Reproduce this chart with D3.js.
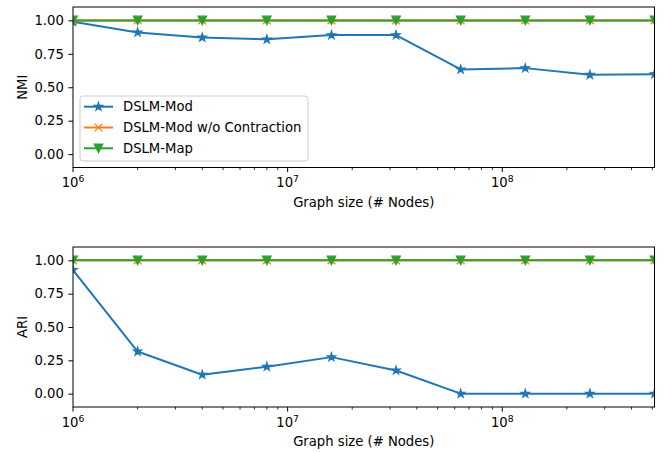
<!DOCTYPE html>
<html><head><meta charset="utf-8">
<script src="https://cdn.jsdelivr.net/npm/d3@7"></script>
<style>
body{margin:0;background:#fff;}
text{font-family:"DejaVu Sans",sans-serif;fill:#000;}
</style></head>
<body><svg id="c" width="665" height="452"></svg>
<script>
const graphSizes = [1e6, 2e6, 4e6, 8e6, 1.6e7, 3.2e7, 6.4e7, 1.28e8, 2.56e8, 5.12e8];
const nmiMod = [0.989, 0.910, 0.872, 0.858, 0.890, 0.890, 0.633, 0.643, 0.593, 0.598];
const nmiModNoContraction = [1, 1, 1, 1, 1, 1, 1, 1, 1, 1];
const nmiMap = [1, 1, 1, 1, 1, 1, 1, 1, 1, 1];
const ariMod = [0.927, 0.316, 0.142, 0.202, 0.274, 0.174, 0.0, 0.0, 0.0, 0.0];
const ariModNoContraction = [1, 1, 1, 1, 1, 1, 1, 1, 1, 1];
const ariMap = [1, 1, 1, 1, 1, 1, 1, 1, 1, 1];
const yTicks = [0, 0.25, 0.5, 0.75, 1.0];
const xMajorTicks = [1e6, 1e7, 1e8];
const seriesNames = ["DSLM-Mod", "DSLM-Mod w/o Contraction", "DSLM-Map"];
const colors = ["#1f77b4", "#ff7f0e", "#2ca02c"];
const markers = ["star", "x", "tri"];

const svg = d3.select("#c");
const FS = 13.2;
const left = 73, right = 654.5;
const x = d3.scaleLog().domain([1e6, 5.12e8]).range([left, right]);

function markerPath(type, R) {
  if (type === "star") {
    const pts = [];
    for (let i = 0; i < 10; i++) {
      const r = i % 2 === 0 ? R : R * 0.381966;
      const a = -Math.PI / 2 + i * Math.PI / 5;
      pts.push([r * Math.cos(a), r * Math.sin(a)]);
    }
    return "M" + pts.map(p => p.join(",")).join("L") + "Z";
  }
  if (type === "tri") {
    return `M0,${R}L${-R},${-R}L${R},${-R}Z`;
  }
  return `M${-R},${-R}L${R},${R}M${-R},${R}L${R},${-R}`;
}

function panel(id, top, bottom, label, series) {
  const y = d3.scaleLinear().domain([-0.1, 1.1]).range([bottom, top]);
  const g = svg.append("g");
  g.append("clipPath").attr("id", "clip" + id).append("rect")
    .attr("x", left).attr("y", top).attr("width", right - left).attr("height", bottom - top);
  const plot = g.append("g").attr("clip-path", `url(#clip${id})`);
  const line = d3.line().x((d, i) => x(graphSizes[i])).y(d => y(d));
  series.forEach((vals, k) => {
    plot.append("path").datum(vals).attr("d", line)
      .attr("fill", "none").attr("stroke", colors[k]).attr("stroke-width", 2)
      .attr("stroke-linejoin", "round").attr("stroke-linecap", "square");
    plot.selectAll(null).data(vals).enter().append("path")
      .attr("transform", (d, i) => `translate(${x(graphSizes[i])},${y(d)})`)
      .attr("d", markerPath(markers[k], markers[k] === "x" ? 3.9 : 4.2))
      .attr("fill", markers[k] === "x" ? "none" : colors[k])
      .attr("stroke", colors[k]).attr("stroke-width", markers[k] === "x" ? 1.3 : 1.3)
      .attr("stroke-linejoin", "miter");
  });
  // frame
  g.append("rect").attr("x", left).attr("y", top).attr("width", right - left).attr("height", bottom - top)
    .attr("fill", "none").attr("stroke", "#000").attr("stroke-width", 1);
  // y axis
  const yAx = g.append("g").attr("transform", `translate(${left},0)`)
    .call(d3.axisLeft(y).tickValues(yTicks).tickFormat(d3.format(".2f")).tickSizeInner(4.6).tickSizeOuter(0).tickPadding(4.6));
  yAx.select(".domain").remove();
  yAx.selectAll("text").attr("font-size", FS).style("font-family", "DejaVu Sans");
  yAx.selectAll("line").attr("stroke-width", 1);
  // x axis minor ticks
  const minor = [];
  for (let e = 6; e <= 8; e++) for (let m = 2; m <= 9; m++) { const v = m * Math.pow(10, e); if (v <= 5.12e8) minor.push(v); }
  g.selectAll(null).data(minor).enter().append("line")
    .attr("x1", d => x(d)).attr("x2", d => x(d)).attr("y1", bottom).attr("y2", bottom + 2.6)
    .attr("stroke", "#000").attr("stroke-width", 0.8);
  g.selectAll(null).data(xMajorTicks).enter().append("line")
    .attr("x1", d => x(d)).attr("x2", d => x(d)).attr("y1", bottom).attr("y2", bottom + 4.6)
    .attr("stroke", "#000").attr("stroke-width", 1);
  const tl = g.selectAll(null).data(xMajorTicks).enter().append("text")
    .attr("x", d => x(d)).attr("y", bottom + 19.5).attr("text-anchor", "middle").attr("font-size", FS);
  tl.append("tspan").text("10");
  tl.append("tspan").attr("dy", -5).attr("font-size", FS * 0.7).text(d => Math.round(Math.log10(d)));
  g.append("text").attr("x", (left + right) / 2).attr("y", bottom + 39).attr("text-anchor", "middle")
    .attr("font-size", FS).text("Graph size (# Nodes)");
  g.append("text").attr("transform", `translate(27,${(top + bottom) / 2}) rotate(-90)`)
    .attr("text-anchor", "middle").attr("font-size", FS).text(label);
  return {g, y};
}

const p1 = panel(1, 7, 167.5, "NMI", [nmiMod, nmiModNoContraction, nmiMap]);
panel(2, 247, 407, "ARI", [ariMod, ariModNoContraction, ariMap]);

// legend
const lg = svg.append("g");
lg.append("rect").attr("x", 80).attr("y", 96).attr("width", 228).attr("height", 65).attr("rx", 3)
  .attr("fill", "#fff").attr("fill-opacity", 0.8).attr("stroke", "#cccccc").attr("stroke-width", 1);
seriesNames.forEach((name, k) => {
  const cy = 106.7 + k * 20.8;
  lg.append("line").attr("x1", 84).attr("x2", 113).attr("y1", cy).attr("y2", cy)
    .attr("stroke", colors[k]).attr("stroke-width", 2);
  lg.append("path").attr("transform", `translate(98.5,${cy})`)
    .attr("d", markerPath(markers[k], markers[k] === "x" ? 3.9 : 4.2))
    .attr("fill", markers[k] === "x" ? "none" : colors[k]).attr("stroke", colors[k]).attr("stroke-width", 1.3);
  lg.append("text").attr("x", 123).attr("y", cy + 4.7).attr("font-size", FS).text(name);
});
</script></body></html>
